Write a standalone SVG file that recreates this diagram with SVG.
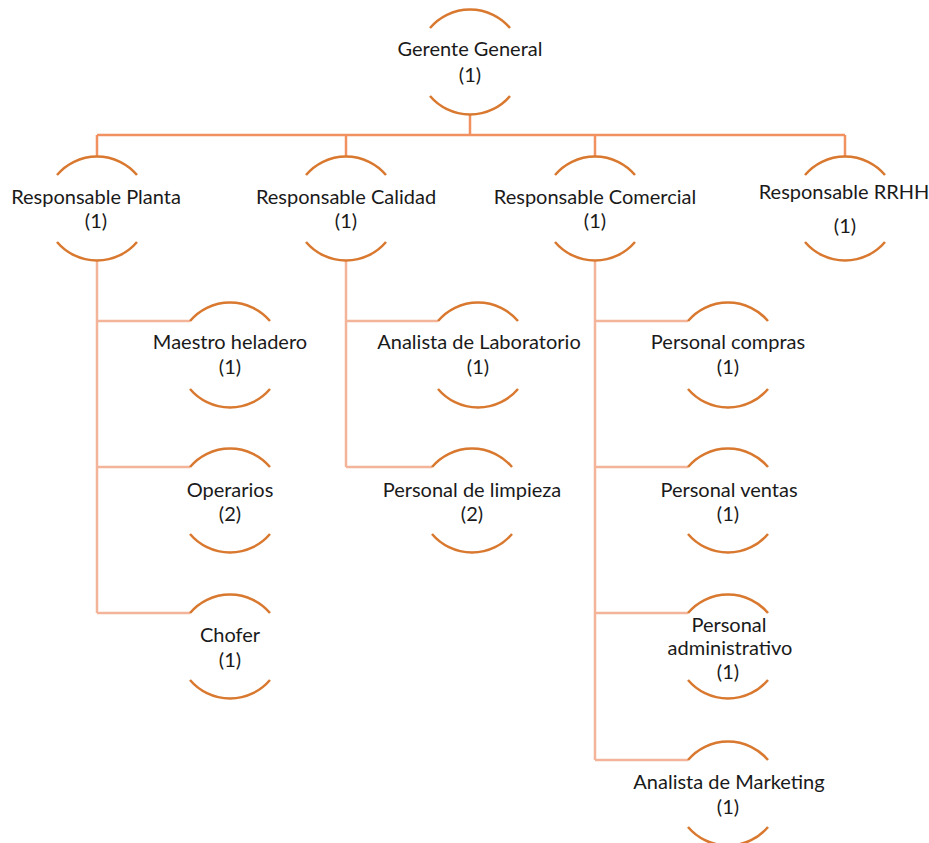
<svg xmlns="http://www.w3.org/2000/svg" width="929" height="843" viewBox="0 0 929 843">
<defs>
<style>
.arc{fill:none;stroke:#D9782F;stroke-width:2.5}
.c1{fill:none;stroke:#F0915F;stroke-width:2.5}
.c2{fill:none;stroke:#F4B49A;stroke-width:2.5}
text{font-family:Lato,"Liberation Sans",sans-serif;font-size:20px;fill:#1a1a1a;text-anchor:middle}
</style>
</defs>
<rect width="929" height="843" fill="#ffffff"/>
<g id="connectors">
<path class="c1" d="M470 114V135M97 135H845M97 135V157M346 135V157M595 135V157M845 135V157"/>
<path class="c2" d="M97 260V613M97 321H190M97 467H190M97 613H190"/>
<path class="c2" d="M346 260V467M346 321H438M346 467H432"/>
<path class="c2" d="M595 260V760M595 321H688M595 467H688M595 613H688M595 760H688"/>
</g>
<g id="gerente">
<path class="arc" d="M430 28A52.5 52.5 0 0 1 510 28M430 96A52.5 52.5 0 0 0 510 96"/>
<text x="470" y="56">Gerente General</text><text x="470" y="82">(1)</text>
</g>
<g id="planta">
<path class="arc" d="M57 175A52.5 52.5 0 0 1 137 175M57 242A52.5 52.5 0 0 0 137 242"/>
<text x="96" y="204">Responsable Planta</text><text x="96" y="228">(1)</text>
</g>
<g id="calidad">
<path class="arc" d="M306 175A52.5 52.5 0 0 1 386 175M306 242A52.5 52.5 0 0 0 386 242"/>
<text x="346" y="204">Responsable Calidad</text><text x="346" y="228">(1)</text>
</g>
<g id="comercial">
<path class="arc" d="M555 175A52.5 52.5 0 0 1 635 175M555 242A52.5 52.5 0 0 0 635 242"/>
<text x="595" y="204">Responsable Comercial</text><text x="595" y="228">(1)</text>
</g>
<g id="rrhh">
<path class="arc" d="M805 175A52.5 52.5 0 0 1 885 175M805 242A52.5 52.5 0 0 0 885 242"/>
<text x="844" y="199">Responsable RRHH</text><text x="845" y="233">(1)</text>
</g>
<g id="maestro">
<path class="arc" d="M190 321A52.5 52.5 0 0 1 270 321M190 389A52.5 52.5 0 0 0 270 389"/>
<text x="230" y="349">Maestro heladero</text><text x="230" y="374">(1)</text>
</g>
<g id="operarios">
<path class="arc" d="M190 467A52.5 52.5 0 0 1 270 467M190 534A52.5 52.5 0 0 0 270 534"/>
<text x="230" y="497">Operarios</text><text x="230" y="521">(2)</text>
</g>
<g id="chofer">
<path class="arc" d="M190 613A52.5 52.5 0 0 1 270 613M190 680A52.5 52.5 0 0 0 270 680"/>
<text x="230" y="642">Chofer</text><text x="230" y="667">(1)</text>
</g>
<g id="laboratorio">
<path class="arc" d="M438 321A52.5 52.5 0 0 1 518 321M438 389A52.5 52.5 0 0 0 518 389"/>
<text x="479" y="349">Analista de Laboratorio</text><text x="478" y="374">(1)</text>
</g>
<g id="limpieza">
<path class="arc" d="M432 467A52.5 52.5 0 0 1 512 467M432 534A52.5 52.5 0 0 0 512 534"/>
<text x="472" y="497">Personal de limpieza</text><text x="472" y="521">(2)</text>
</g>
<g id="compras">
<path class="arc" d="M688 321A52.5 52.5 0 0 1 768 321M688 389A52.5 52.5 0 0 0 768 389"/>
<text x="728" y="349">Personal compras</text><text x="728" y="374">(1)</text>
</g>
<g id="ventas">
<path class="arc" d="M688 467A52.5 52.5 0 0 1 768 467M688 534A52.5 52.5 0 0 0 768 534"/>
<text x="729" y="497">Personal ventas</text><text x="728" y="521">(1)</text>
</g>
<g id="administrativo">
<path class="arc" d="M688 613A52.5 52.5 0 0 1 768 613M688 680A52.5 52.5 0 0 0 768 680"/>
<text x="729" y="632">Personal</text><text x="730" y="655">administrativo</text><text x="728" y="679">(1)</text>
</g>
<g id="marketing">
<path class="arc" d="M688 760A52.5 52.5 0 0 1 768 760M688 827A52.5 52.5 0 0 0 768 827"/>
<text x="729" y="789">Analista de Marketing</text><text x="728" y="814">(1)</text>
</g>
</svg>
